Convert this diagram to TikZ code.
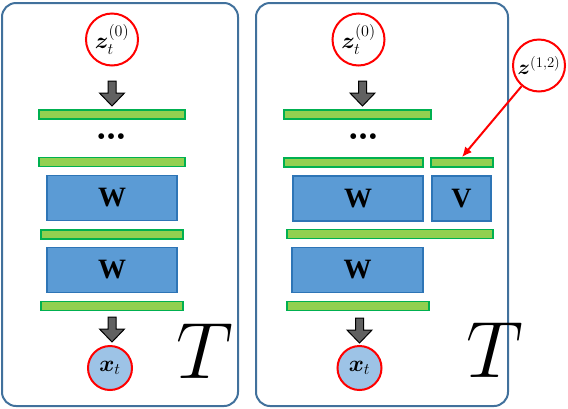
\RequirePackage{fix-cm}
\documentclass[tikz,border=0pt]{standalone}
\usepackage{amsmath}
\usepackage{bm}
\usepackage{fontspec}
\newfontfamily\boxfont{Liberation Serif}
\usetikzlibrary{arrows.meta, positioning, calc}
\definecolor{panelblue}{HTML}{41719C}
\definecolor{barfill}{HTML}{92D050}
\definecolor{barline}{HTML}{00B050}
\definecolor{wfill}{HTML}{5B9BD5}
\definecolor{wline}{HTML}{2E75B6}
\definecolor{xfill}{HTML}{9DC3E6}

\begin{document}
\begin{tikzpicture}[x=1pt, y=-1pt,
    panel/.style={draw=panelblue, line width=2pt, rounded corners=14pt},
    bar/.style={rectangle, fill=barfill, draw=barline, line width=1.8pt, inner sep=0pt, minimum height=9pt},
    wbox/.style={rectangle, fill=wfill, draw=wline, line width=1.5pt, inner sep=0pt, minimum height=45pt, font=\boxfont\fontsize{28}{28}\selectfont\bfseries},
    latent/.style={circle, draw=red, line width=2pt, fill=white, inner sep=0pt, minimum size=52pt, font=\fontsize{23}{23}\selectfont},
    obs/.style={latent, fill=xfill, minimum size=44pt},
    blockarrow/.style={fill=black!62, draw=black, line width=1pt},
    bigT/.style={font=\fontsize{80}{80}\selectfont},
    dots/.style={font=\fontsize{40}{40}\selectfont\bfseries}]
      \useasboundingbox (0, 0) rectangle (568, 408);

      % panels
      \draw[panel] (2, 3) rectangle (238, 406);
      \draw[panel] (256, 3) rectangle (508, 406);

      % left panel
      \node[latent] (zL) at (112, 39.5) {$\boldsymbol{z}_t^{(0)}$};
      \node[bar, minimum width=146pt] (gL1) at (112, 114.5) {};
      \node[dots] (dL) at (112, 137) {\ldots};
      \node[bar, minimum width=146pt] (gL2) at (112, 162) {};
      \node[wbox, minimum width=130pt] (WL1) at (112, 198) {W};
      \node[bar, minimum width=142pt] (gL3) at (112, 234.5) {};
      \node[wbox, minimum width=130pt] (WL2) at (112, 270) {W};
      \node[bar, minimum width=142pt] (gL4) at (112, 306) {};
      \node[obs] (xL) at (110, 368) {$\boldsymbol{x}_t$};
      \node[bigT] (TL) at (205, 351) {$T$};

      % right panel
      \node[latent] (zR) at (358.5, 39.5) {$\boldsymbol{z}_t^{(0)}$};
      \node[bar, minimum width=147pt] (gR1) at (357.5, 114.5) {};
      \node[dots] (dR) at (363.5, 137) {\ldots};
      \node[bar, minimum width=139pt] (gR2) at (353.5, 162.5) {};
      \node[bar, minimum width=62pt] (gV) at (462, 162.5) {};
      \node[wbox, minimum width=130pt] (WR1) at (358, 198.5) {W};
      \node[wbox, minimum width=59pt] (VR) at (461.5, 198.5) {V};
      \node[bar, minimum width=206pt] (gR3) at (390, 234) {};
      \node[wbox, minimum width=131pt] (WR2) at (357.5, 270) {W};
      \node[bar, minimum width=142pt] (gR4) at (358, 306) {};
      \node[obs] (xR) at (359.5, 368) {$\boldsymbol{x}_t$};
      \node[bigT] (TR) at (495, 350.5) {$T$};

      \node[latent, font=\fontsize{21}{21}\selectfont] (z12) at (539, 65.5) {$\boldsymbol{z}^{(1,2)}$};
      \draw[red, line width=2pt, -{Latex[length=10pt, width=9pt]}] (z12) -- (gV.north);

      % block arrows
      \coordinate (aL1) at (112, 81);
      \coordinate (aL2) at (112, 317);
      \coordinate (aR1) at (362.5, 81);
      \coordinate (aR2) at (359.5, 318);
      \foreach \c in {aL1, aL2, aR1, aR2}
        \draw[blockarrow] (\c) ++(-4, 0) -- ++(8, 0) -- ++(0, 12) -- ++(8.5, 0)
          -- ++(-12.5, 13) -- ++(-12.5, -13) -- ++(8.5, 0) -- cycle;

    \end{tikzpicture}
\end{document}
